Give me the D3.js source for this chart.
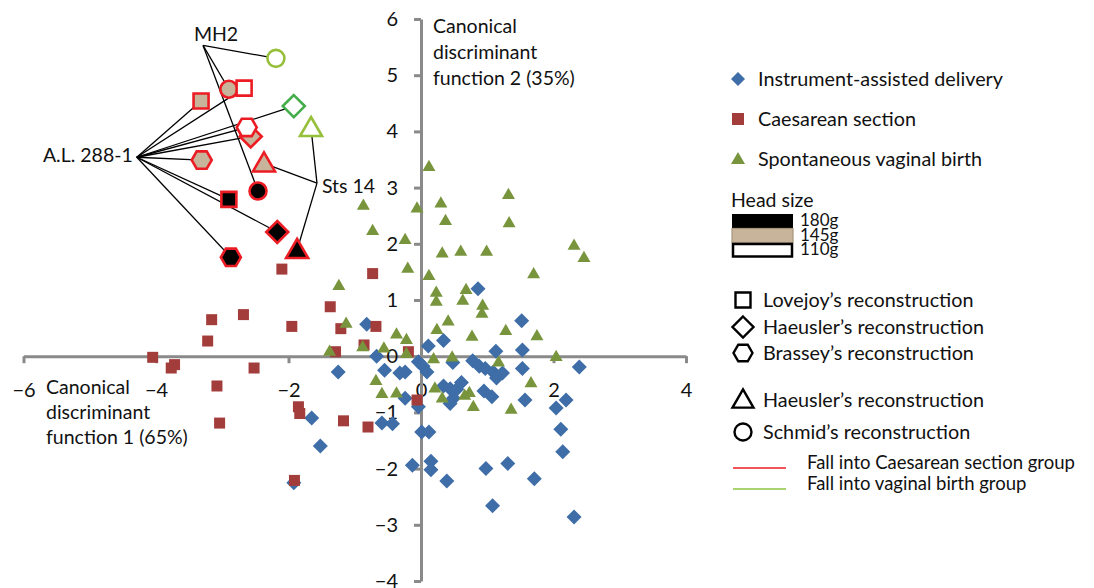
<!DOCTYPE html>
<html>
<head>
<meta charset="utf-8">
<script src="https://cdn.jsdelivr.net/npm/d3@7"></script>
<style>
  html, body { margin: 0; padding: 0; background: #fff; }
  svg text { font-family: Lato, "Open Sans", sans-serif; fill: #111; }
</style>
</head>
<body>
<div id="chart"></div>
<script>
// --- data ---
const xTicks = [-6, -4, -2, 0, 2, 4];
const yTicks = [-4, -3, -2, -1, 0, 1, 2, 3, 4, 5, 6];

const instrumentAssisted = [
    [0.86, 1.20], [1.52, 0.63], [-0.82, 0.57], [0.34, 0.28], [0.11, 0.18], [1.13, 0.09],
    [1.53, 0.11], [-0.67, 0.00], [0.48, -0.11], [-1.25, -0.28], [-0.55, -0.25], [-0.32, -0.30],
    [-0.24, -0.28], [-0.04, -0.10], [0.03, -0.18], [0.09, -0.28], [0.78, -0.08], [0.88, -0.18],
    [0.97, -0.22], [1.09, -0.28], [1.14, -0.39], [1.23, -0.30], [1.53, -0.22], [2.39, -0.19],
    [0.34, -0.53], [0.44, -0.58], [0.54, -0.59], [0.61, -0.47], [0.49, -0.75], [0.44, -0.84],
    [0.95, -0.62], [1.07, -0.72], [1.57, -0.78], [-0.24, -0.75], [-0.04, -0.90], [2.04, -0.92],
    [2.19, -0.78], [-1.65, -1.10], [-0.59, -1.19], [-0.43, -1.20], [0.01, -1.35], [0.12, -1.35],
    [2.11, -1.30], [-1.52, -1.60], [2.14, -1.70], [-0.13, -1.94], [0.15, -1.87], [0.15, -2.02],
    [0.39, -2.22], [0.98, -2.00], [1.31, -1.91], [1.71, -2.18], [1.08, -2.66], [2.31, -2.86],
    [-1.92, -2.25]
];

const caesarean = [
    [-2.10, 1.55], [-0.73, 1.47], [-1.37, 0.88], [-2.68, 0.74], [-3.16, 0.65], [-1.95, 0.53],
    [-1.21, 0.49], [-0.68, 0.53], [-3.22, 0.27], [-0.86, 0.20], [-1.29, 0.08], [-4.05, -0.02],
    [-3.72, -0.15], [-3.77, -0.21], [-2.52, -0.21], [-3.08, -0.53], [-1.85, -0.90], [-1.83, -1.02],
    [-1.17, -1.15], [-0.80, -1.26], [-3.04, -1.19], [-1.91, -2.21], [-0.19, 0.08], [-0.06, -0.78]
];

const spontaneous = [
    [0.12, 3.38], [1.32, 2.88], [-0.87, 2.69], [-0.06, 2.64], [0.30, 2.73], [0.37, 2.42],
    [1.33, 2.38], [-0.73, 2.24], [-0.24, 2.08], [2.31, 1.98], [2.46, 1.76], [0.32, 1.84],
    [0.60, 1.87], [0.99, 1.87], [-0.20, 1.57], [1.70, 1.47], [0.12, 1.44], [-1.24, 1.26],
    [0.23, 1.14], [0.68, 1.19], [0.23, 0.98], [0.63, 1.00], [0.93, 0.91], [0.92, 0.77],
    [0.41, 0.63], [0.24, 0.48], [0.77, 0.36], [1.28, 0.46], [1.75, 0.37], [2.04, 0.00],
    [1.17, -0.10], [0.47, -0.01], [0.19, -0.04], [-1.13, 0.59], [-1.38, 0.09], [-0.88, 0.17],
    [-0.56, 0.15], [-0.37, 0.40], [-0.22, 0.30], [-0.22, 0.05], [-0.68, -0.43], [-0.59, -0.66],
    [-0.37, -0.65], [0.21, -0.56], [0.32, -0.74], [0.66, -0.69], [0.73, -0.64], [0.79, -0.89],
    [1.36, -0.94], [1.66, -0.47]
];

// fossil reconstructions: specimen, method (shape), head size, predicted group, position
const fossils = [
    { specimen: 'MH2', shape: 'circle', head: '110g', group: 'vaginal', x: -2.19, y: 5.30 },
    { specimen: 'MH2', shape: 'circle', head: '145g', group: 'caesarean', x: -2.90, y: 4.75 },
    { specimen: 'MH2', shape: 'circle', head: '180g', group: 'caesarean', x: -2.46, y: 2.94 },
    { specimen: 'A.L. 288-1', shape: 'square', head: '110g', group: 'caesarean', x: -2.67, y: 4.77 },
    { specimen: 'A.L. 288-1', shape: 'square', head: '145g', group: 'caesarean', x: -3.32, y: 4.54 },
    { specimen: 'A.L. 288-1', shape: 'square', head: '180g', group: 'caesarean', x: -2.90, y: 2.79 },
    { specimen: 'A.L. 288-1', shape: 'diamond', head: '110g', group: 'vaginal2', x: -1.92, y: 4.45 },
    { specimen: 'A.L. 288-1', shape: 'diamond', head: '145g', group: 'caesarean', x: -2.57, y: 3.91 },
    { specimen: 'A.L. 288-1', shape: 'diamond', head: '180g', group: 'caesarean', x: -2.17, y: 2.21 },
    { specimen: 'A.L. 288-1', shape: 'hexagon', head: '110g', group: 'caesarean', x: -2.63, y: 4.07 },
    { specimen: 'A.L. 288-1', shape: 'hexagon', head: '145g', group: 'caesarean', x: -3.31, y: 3.49 },
    { specimen: 'A.L. 288-1', shape: 'hexagon', head: '180g', group: 'caesarean', x: -2.87, y: 1.76 },
    { specimen: 'Sts 14', shape: 'triangle', head: '110g', group: 'vaginal', x: -1.66, y: 4.06 },
    { specimen: 'Sts 14', shape: 'triangle', head: '145g', group: 'caesarean', x: -2.37, y: 3.43 },
    { specimen: 'Sts 14', shape: 'triangle', head: '180g', group: 'caesarean', x: -1.87, y: 1.89 }
];

// where each specimen's leader lines meet
const specimenLabels = [
    { name: 'MH2', x: -3.29, y: 5.53, anchor: 'middle', dx: 13, dy: -4 },
    { name: 'A.L. 288-1', x: -4.29, y: 3.54, anchor: 'end', dx: -4, dy: 5 },
    { name: 'Sts 14', x: -1.57, y: 3.08, anchor: 'start', dx: 5, dy: 10 }
];

const groupNames = ['Instrument-assisted delivery', 'Caesarean section', 'Spontaneous vaginal birth'];
const headSizes = ['180g', '145g', '110g'];
const shapeNames = [
    ['square', 'Lovejoy\u2019s reconstruction'],
    ['diamond', 'Haeusler\u2019s reconstruction'],
    ['hexagon', 'Brassey\u2019s reconstruction'],
    ['triangle', 'Haeusler\u2019s reconstruction'],
    ['circle', 'Schmid\u2019s reconstruction']
];
const fallNames = ['Fall into Caesarean section group', 'Fall into vaginal birth group'];

// --- drawing ---
const W = 1094, H = 588;
const blue = '#3e6da7', darkRed = '#a33d3b', olive = '#78953d';
const red = '#ec1c24';
const headFill = { '110g': '#ffffff', '145g': '#c8b49b', '180g': '#000000' };
const groupStroke = { caesarean: red, vaginal: '#96bf3a', vaginal2: '#43ad4a' };

const svg = d3.select('#chart').append('svg')
    .attr('width', W)
    .attr('height', H);

const x = d3.scaleLinear().domain([-6, 4]).range([23.5, 686]);
const y = d3.scaleLinear().domain([-4, 6]).range([581, 19]);

const fmt = d => d < 0 ? '\u2212' + Math.abs(d) : String(d);

function shapePath(shape, s) {
    if (shape === 'square') {
        const h = s / 2;
        return `M${-h},${-h}H${h}V${h}H${-h}Z`;
    }
    if (shape === 'diamond') {
        const r = s / 2;
        return `M0,${-r}L${r},0L0,${r}L${-r},0Z`;
    }
    if (shape === 'hexagon') {
        const r = s / 2;
        const pts = d3.range(6).map(i => [r * Math.cos(i * Math.PI / 3), r * Math.sin(i * Math.PI / 3)]);
        return 'M' + pts.map(p => p.join(',')).join('L') + 'Z';
    }
    if (shape === 'triangle') {
        const hh = s * Math.sqrt(3) / 2;
        return `M0,${-hh * 0.58}L${s / 2},${hh * 0.42}L${-s / 2},${hh * 0.42}Z`;
    }
    const r = s / 2;
    return `M${r},0A${r},${r} 0 1,1 ${-r},0A${r},${r} 0 1,1 ${r},0Z`;
}

// axes
const axisColor = '#8a8a8a';
const xAxis = d3.axisBottom(x).tickValues(xTicks).tickSize(7).tickSizeOuter(0).tickPadding(20).tickFormat(fmt);
const yAxis = d3.axisLeft(y).tickValues(yTicks).tickSize(7).tickSizeOuter(0).tickPadding(16).tickFormat(fmt);

const gx = svg.append('g').attr('transform', `translate(0,${y(0)})`).call(xAxis);
const gy = svg.append('g').attr('transform', `translate(${x(0)},0)`).call(yAxis);
[gx, gy].forEach(g => {
    g.select('.domain').attr('stroke', axisColor).attr('stroke-width', 3);
    g.selectAll('.tick line').attr('stroke', axisColor).attr('stroke-width', 3);
    g.selectAll('.tick text').style('font-family', 'Lato, sans-serif').style('font-size', '20px').attr('fill', '#111');
});

// axis titles
const yTitle = svg.append('text').attr('x', 433).attr('y', 33).style('font-size', '19.5px');
['Canonical', 'discriminant', 'function 2 (35%)'].forEach((t, i) =>
    yTitle.append('tspan').attr('x', 433).attr('dy', i ? 26 : 0).text(t));
const xTitle = svg.append('text').attr('x', 46).attr('y', 394).style('font-size', '19.5px');
['Canonical', 'discriminant', 'function 1 (65%)'].forEach((t, i) =>
    xTitle.append('tspan').attr('x', 46).attr('dy', i ? 25 : 0).text(t));

// data points
const pts = svg.append('g');
pts.selectAll('.inst').data(instrumentAssisted).join('path')
    .attr('transform', d => `translate(${x(d[0])},${y(d[1])})`)
    .attr('d', shapePath('diamond', 15))
    .attr('fill', blue);
pts.selectAll('.caes').data(caesarean).join('path')
    .attr('transform', d => `translate(${x(d[0])},${y(d[1])})`)
    .attr('d', shapePath('square', 11))
    .attr('fill', darkRed);
pts.selectAll('.spon').data(spontaneous).join('path')
    .attr('transform', d => `translate(${x(d[0])},${y(d[1])})`)
    .attr('d', shapePath('triangle', 13))
    .attr('fill', olive);

// leader lines from specimen labels
const labelByName = {};
specimenLabels.forEach(l => { labelByName[l.name] = l; });
svg.append('g').selectAll('line').data(fossils).join('line')
    .attr('x1', d => x(labelByName[d.specimen].x))
    .attr('y1', d => y(labelByName[d.specimen].y))
    .attr('x2', d => x(d.x))
    .attr('y2', d => y(d.y))
    .attr('stroke', '#000')
    .attr('stroke-width', 1.3);

svg.append('g').selectAll('text').data(specimenLabels).join('text')
    .attr('x', d => x(d.x) + d.dx)
    .attr('y', d => y(d.y) + d.dy)
    .attr('text-anchor', d => d.anchor)
    .style('font-size', '19.5px')
    .text(d => d.name);

// fossil markers
const fossilSize = { square: 15, diamond: 22, hexagon: 20, triangle: 22, circle: 17 };
svg.append('g').selectAll('path').data(fossils).join('path')
    .attr('transform', d => `translate(${x(d.x)},${y(d.y)})`)
    .attr('d', d => shapePath(d.shape, fossilSize[d.shape]))
    .attr('fill', d => headFill[d.head])
    .attr('stroke', d => groupStroke[d.group])
    .attr('stroke-width', 2.6);

// legend
const lg = svg.append('g');
const legendShapes = ['diamond', 'square', 'triangle'];
const legendColors = [blue, darkRed, olive];
const legendSizes = [14, 12, 14];
groupNames.forEach((name, i) => {
    const cy = 79 + i * 40;
    lg.append('path').attr('transform', `translate(738,${cy})`)
        .attr('d', shapePath(legendShapes[i], legendSizes[i])).attr('fill', legendColors[i]);
    lg.append('text').attr('x', 758).attr('y', cy + 7).style('font-size', '19.8px').text(name);
});

lg.append('text').attr('x', 731).attr('y', 207).style('font-size', '19.5px').text('Head size');
headSizes.forEach((h, i) => {
    const top = 214 + i * 14.5;
    lg.append('rect').attr('x', h === '110g' ? 733 : 732).attr('y', h === '110g' ? top + 1 : top)
        .attr('width', h === '110g' ? 59 : 61).attr('height', h === '110g' ? 12.5 : 14)
        .attr('fill', headFill[h])
        .attr('stroke', h === '180g' ? 'none' : (h === '145g' ? '#a8947c' : '#000'))
        .attr('stroke-width', h === '110g' ? 2.5 : 1.2);
    lg.append('text').attr('x', 800).attr('y', top + 12).style('font-size', '17px').text(h);
});

const shapeRows = [300, 327, 353, 400, 432];
const legendSymbolSize = { square: 15, diamond: 21, hexagon: 19, triangle: 21, circle: 17 };
shapeNames.forEach((s, i) => {
    const cy = shapeRows[i];
    lg.append('path').attr('transform', `translate(743,${cy})`)
        .attr('d', shapePath(s[0], legendSymbolSize[s[0]]))
        .attr('fill', '#fff').attr('stroke', '#000').attr('stroke-width', 2.4);
    lg.append('text').attr('x', 763).attr('y', cy + 7).style('font-size', '19.8px').text(s[1]);
});

const fallColors = [red, '#8dc63f'];
fallNames.forEach((name, i) => {
    const cy = 468 + i * 21;
    lg.append('line').attr('x1', 733).attr('x2', 786).attr('y1', cy).attr('y2', cy)
        .attr('stroke', fallColors[i]).attr('stroke-width', 1.5);
    lg.append('text').attr('x', 807).attr('y', cy + 1).style('font-size', '18.5px').text(name);
});
</script>
</body>
</html>
